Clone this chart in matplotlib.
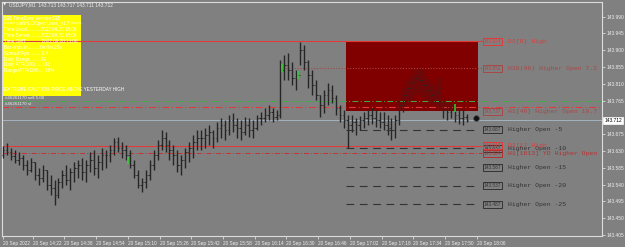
import matplotlib
matplotlib.use("Agg")
import matplotlib.pyplot as plt
import matplotlib.patches as mpatches
import matplotlib.transforms as mtrans
import numpy as np

plt.rcParams['text.parse_math'] = False

W, H = 625, 247

# ---------------- data ----------------
bar_start_min = 7        # minutes after 14:00 of first bar (14:07)
bar_step_min = 2

highs = [143.644, 143.652, 143.638, 143.633, 143.627, 143.619, 143.606, 143.611, 143.601, 143.585,
         143.593, 143.579, 143.566, 143.552, 143.558, 143.579, 143.593, 143.585, 143.601, 143.606,
         143.611, 143.606, 143.627, 143.633, 143.619, 143.638, 143.633, 143.646, 143.665, 143.668,
         143.654, 143.646, 143.633, 143.606, 143.579, 143.558, 143.579, 143.606, 143.633, 143.660,
         143.686, 143.681, 143.660, 143.646, 143.633, 143.619, 143.638, 143.654, 143.673, 143.686,
         143.686, 143.692, 143.700, 143.686, 143.708, 143.719, 143.713, 143.727, 143.732, 143.719,
         143.713, 143.721, 143.719, 143.713, 143.727, 143.735, 143.745, 143.753, 143.745, 143.740,
         143.874, 143.887, 143.893, 143.869, 143.847, 143.922, 143.914, 143.874, 143.847, 143.820,
         143.780, 143.794, 143.812, 143.807, 143.780, 143.753, 143.740, 143.727, 143.727, 143.719,
         143.724, 143.735, 143.740, 143.745, 143.740, 143.735, 143.735, 143.727, 143.719, 143.727,
         143.767, 143.799, 143.820, 143.834, 143.847, 143.853, 143.847, 143.826, 143.815, 143.807,
         143.828, 143.767, 143.761, 143.759, 143.753, 143.745, 143.740, 143.729]
lows = [143.611, 143.619, 143.606, 143.598, 143.593, 143.579, 143.566, 143.574, 143.552, 143.539,
        143.547, 143.526, 143.512, 143.485, 143.504, 143.531, 143.539, 143.526, 143.547, 143.558,
        143.552, 143.547, 143.574, 143.566, 143.558, 143.579, 143.585, 143.601, 143.619, 143.627,
        143.611, 143.606, 143.585, 143.558, 143.531, 143.520, 143.531, 143.552, 143.579, 143.606,
        143.633, 143.627, 143.606, 143.593, 143.574, 143.566, 143.585, 143.601, 143.611, 143.633,
        143.633, 143.638, 143.646, 143.638, 143.654, 143.665, 143.660, 143.673, 143.681, 143.665,
        143.660, 143.673, 143.668, 143.665, 143.686, 143.700, 143.708, 143.713, 143.708, 143.713,
        143.719, 143.820, 143.820, 143.807, 143.794, 143.861, 143.847, 143.799, 143.780, 143.767,
        143.721, 143.732, 143.753, 143.759, 143.727, 143.708, 143.692, 143.638, 143.681, 143.673,
        143.686, 143.692, 143.700, 143.703, 143.694, 143.692, 143.686, 143.673, 143.660, 143.665,
        143.700, 143.735, 143.753, 143.767, 143.780, 143.788, 143.775, 143.767, 143.756, 143.753,
        143.745, 143.719, 143.713, 143.719, 143.708, 143.703, 143.700, 143.708]
closes = [143.633, 143.627, 143.617, 143.606, 143.611, 143.593, 143.579, 143.601, 143.566, 143.558,
          143.579, 143.539, 143.531, 143.512, 143.547, 143.566, 143.552, 143.574, 143.585, 143.593,
          143.574, 143.593, 143.606, 143.585, 143.601, 143.619, 143.619, 143.633, 143.654, 143.638,
          143.633, 143.619, 143.593, 143.566, 143.539, 143.547, 143.566, 143.593, 143.619, 143.646,
          143.665, 143.646, 143.633, 143.619, 143.593, 143.606, 143.627, 143.638, 143.654, 143.665,
          143.665, 143.673, 143.681, 143.665, 143.692, 143.700, 143.686, 143.713, 143.700, 143.692,
          143.681, 143.700, 143.686, 143.692, 143.719, 143.719, 143.727, 143.735, 143.721, 143.727,
          143.847, 143.861, 143.847, 143.826, 143.834, 143.901, 143.869, 143.834, 143.807, 143.780,
          143.753, 143.780, 143.794, 143.772, 143.745, 143.727, 143.713, 143.700, 143.708, 143.700,
          143.713, 143.719, 143.727, 143.719, 143.713, 143.708, 143.700, 143.692, 143.686, 143.713,
          143.753, 143.780, 143.799, 143.815, 143.826, 143.820, 143.807, 143.794, 143.780, 143.788,
          143.761, 143.740, 143.735, 143.745, 143.727, 143.719, 143.721, 143.712]
opens = [143.619, 143.633, 143.627, 143.617, 143.606, 143.611, 143.593, 143.579, 143.601, 143.566,
         143.558, 143.579, 143.539, 143.531, 143.512, 143.547, 143.566, 143.552, 143.574, 143.585,
         143.593, 143.574, 143.593, 143.606, 143.585, 143.601, 143.619, 143.619, 143.633, 143.654,
         143.638, 143.633, 143.619, 143.593, 143.566, 143.539, 143.547, 143.566, 143.593, 143.619,
         143.646, 143.665, 143.646, 143.633, 143.619, 143.593, 143.606, 143.627, 143.638, 143.654,
         143.665, 143.665, 143.673, 143.681, 143.665, 143.692, 143.700, 143.686, 143.713, 143.700,
         143.692, 143.681, 143.700, 143.686, 143.692, 143.719, 143.719, 143.727, 143.735, 143.721,
         143.727, 143.847, 143.861, 143.847, 143.826, 143.834, 143.901, 143.869, 143.834, 143.807,
         143.780, 143.753, 143.780, 143.794, 143.772, 143.745, 143.727, 143.713, 143.700, 143.708,
         143.700, 143.713, 143.719, 143.727, 143.719, 143.713, 143.708, 143.700, 143.692, 143.686,
         143.713, 143.753, 143.780, 143.799, 143.815, 143.826, 143.820, 143.807, 143.794, 143.780,
         143.788, 143.761, 143.740, 143.735, 143.745, 143.727, 143.719, 143.721]

y_ticks = [143.405, 143.450, 143.495, 143.540, 143.585, 143.630, 143.675,
           143.765, 143.810, 143.855, 143.900, 143.945, 143.990]
x_tick_minutes = [7, 22, 38, 54, 70, 86, 102, 118, 134, 150, 166, 182, 198, 214, 230, 246]
x_tick_labels = ["20 Sep 2022", "20 Sep 14:22", "20 Sep 14:38", "20 Sep 14:54", "20 Sep 15:10",
                 "20 Sep 15:26", "20 Sep 15:42", "20 Sep 15:58", "20 Sep 16:14", "20 Sep 16:30",
                 "20 Sep 16:46", "20 Sep 17:02", "20 Sep 17:18", "20 Sep 17:34", "20 Sep 17:50",
                 "20 Sep 18:06"]

current_price = 143.712
d1_high_today = 143.924
d1_high_yday = 143.644
h30_open = 143.852
h1_open = 143.737
h1_yd_open = 143.624
order_entry = 143.764
order_sl = 143.747
higher_open_levels = [143.687, 143.637, 143.587, 143.537, 143.487]
higher_open_names = ["Higher Open -5", "Higher Open -10", "Higher Open -15",
                     "Higher Open -20", "Higher Open -25"]
green_marks_min = [70, 148, 156, 235]
green_marks_price = [143.604, 143.853, 143.834, 143.745]

info_lines = ["$$$ TimeZone Version $$$",
              "==== shiftHLCOpen Lines_v1.7 ====",
              "Time Local.......... 2022.09.20 18:06",
              "Time Server........ 2022.09.20 18:06",
              "Time GMT............ 2022.09.20 15:06",
              "Bar ends in......... 0h 0m 25s",
              "Spread Pips......... 0.4",
              "Daily Range........ 99",
              "Daily ATR(100)..... 143",
              "Range/ATR(100).... 69%"]
caution_text = "EXTREME CAUTION: PRICE ABOVE YESTERDAY HIGH"
title_text = "USDJPY,M1  143.713 143.717 143.711 143.712"

# ---------------- layout ----------------
BG = "#808080"
FG = "#eeeeee"
BAR = "#262626"
RED = "#e23a3a"
DRED = "#a84848"
DARK = "#333333"
SANS = "Liberation Sans"
MONO = "Liberation Mono"

fig = plt.figure(figsize=(W / 100, H / 100), dpi=100, facecolor=BG)
ax = fig.add_axes([2 / W, (H - 236) / H, 600 / W, 234 / H], facecolor=BG)

x_left, x_right = 6.5, 309.2
y_bot, y_top = 143.4023, 144.0294
ax.set_xlim(x_left, x_right)
ax.set_ylim(y_bot, y_top)
ax.set_autoscale_on(False)

for s in ax.spines.values():
    s.set_color("#dcdcdc")
    s.set_linewidth(0.8)

def fx(px):
    return px / W

def fy(py):
    return 1 - py / H

# yellow info box
ybox = mpatches.Rectangle((fx(2), fy(96)), 79 / W, 81 / H, transform=fig.transFigure,
                          facecolor="#ffff00", edgecolor="none", zorder=1.2)
ax.add_patch(ybox)
for k, t in enumerate(info_lines):
    ax.text(fx(3.5), fy(17.7 + 5.9 * k), t, transform=fig.transFigure, fontsize=3.3,
            family=SANS, color="#ffffff", va="center", ha="left", zorder=5)
ax.text(fx(3.5), fy(89.3), caution_text, transform=fig.transFigure, fontsize=3.3,
        family=SANS, color="#ffffff", va="center", ha="left", zorder=5)

# title
fig.text(fx(2.5), fy(5), "\u25bc", fontsize=3.2, color=FG, va="center", ha="left")
fig.text(fx(9), fy(5), title_text, fontsize=3.5, family=SANS, color=FG, va="center", ha="left")

# order texts
ax.text(fx(5), fy(98), "#46261170 sell 5.00", transform=fig.transFigure, fontsize=3.2,
        family=SANS, color=FG, va="center", ha="left", zorder=5)
ax.text(fx(5), fy(104), "#46261170 sl", transform=fig.transFigure, fontsize=3.2,
        family=SANS, color=FG, va="center", ha="left", zorder=5)

# red rectangle (today's range zone)
rect_l, rect_r = 180, 246.7
ax.add_patch(mpatches.Rectangle((rect_l, h1_open), rect_r - rect_l, d1_high_today - h1_open,
                                facecolor="#800000", edgecolor="none", zorder=1))

label_end = 248.7
# lines
ax.hlines(d1_high_today, x_left, label_end, color=RED, lw=0.8, zorder=2)
ax.hlines(d1_high_yday, x_left, label_end, color=RED, lw=0.8, zorder=2)
ax.hlines(h1_yd_open, x_left, label_end, color="#c83232", lw=0.7, zorder=2,
          linestyles=[(0, (5, 2, 1, 2))])
ax.hlines(h30_open, 148.3, label_end, color=DRED, lw=0.8, zorder=2, linestyles=[(0, (1, 1.5))])
ax.hlines(order_entry, x_left, x_right, color="#3fae3f", lw=0.7, zorder=2,
          linestyles=[(0, (6, 2.5, 1, 2.5))])
ax.hlines(order_sl, x_left, x_right, color=RED, lw=0.8, zorder=2,
          linestyles=[(0, (6, 2.5, 1, 2.5))])
ax.hlines(current_price, x_left, x_right, color="#a9b9c9", lw=0.6, zorder=2)
ax.hlines(higher_open_levels, rect_l, label_end - 2, color=DARK, lw=0.8, zorder=4,
          linestyles=[(0, (7, 5))])

# bars
n = len(highs)
xs = bar_start_min + bar_step_min * np.arange(n)
ax.vlines(xs, lows, highs, color=BAR, lw=1.0, zorder=3)
ax.hlines(opens, xs - 0.7, xs, color=BAR, lw=0.7, zorder=3)
ax.hlines(closes, xs, xs + 0.7, color=BAR, lw=0.7, zorder=3)
ax.vlines(green_marks_min, np.array(green_marks_price) - 0.010, np.array(green_marks_price) + 0.010,
          color="#2fd02f", lw=1.1, zorder=3.5)

# current price marker
ax.plot([245.7], [143.719], marker="o", ms=4.2, mfc="#111111", mec="#555555", mew=0.6, zorder=5)

# right-hand labels
box_x = 253.9
text_x = 261.8

def level_label(price, name, color, dy=0.0):
    ax.text(box_x, price + dy, f"{price:.3f}", fontsize=3.4, family=SANS, color=color,
            ha="center", va="center", zorder=6,
            bbox=dict(boxstyle="square,pad=0.2", fc="none", ec=color, lw=0.7))
    ax.text(text_x, price + dy, name, fontsize=4.6, family=MONO, color=color,
            ha="left", va="center", zorder=6)

level_label(d1_high_today, "D1[0] High", RED)
level_label(h30_open, "H30(96) Higher Open 7.2", DRED)
level_label(h1_open, "H1[46] Higher Open 10.7", DRED)
for lv, nm in zip(higher_open_levels, higher_open_names):
    level_label(lv, nm, DARK, dy=(-0.001 if nm.endswith("-10") else 0.0))
level_label(d1_high_yday, "D1[1] High", RED, dy=0.002)
level_label(h1_yd_open, "H1[1613] YD Higher Open", "#b83030")

# axes ticks
ax.yaxis.tick_right()
ax.set_yticks(y_ticks)
ax.set_yticklabels([f"{v:.3f}" for v in y_ticks])
ax.tick_params(axis="y", colors="#dcdcdc", labelcolor=FG, length=2, width=0.6, pad=1.5,
               labelsize=3.5)
ax.set_xticks(x_tick_minutes)
ax.set_xticklabels(x_tick_labels, ha="left")
ax.tick_params(axis="x", colors="#dcdcdc", labelcolor=FG, length=2.5, width=0.6, pad=1,
               labelsize=3.4)
for lab in ax.get_xticklabels() + ax.get_yticklabels():
    lab.set_family(SANS)

# current price box on axis
ax.text(1.004, current_price, f"{current_price:.3f}",
        transform=mtrans.blended_transform_factory(ax.transAxes, ax.transData),
        fontsize=3.5, family=SANS, color="#000000", ha="left", va="center", zorder=7,
        bbox=dict(boxstyle="square,pad=0.2", fc="#ffffff", ec="#ffffff", lw=0.5),
        clip_on=False)

fig.savefig("out.png", dpi=100, facecolor=BG)
